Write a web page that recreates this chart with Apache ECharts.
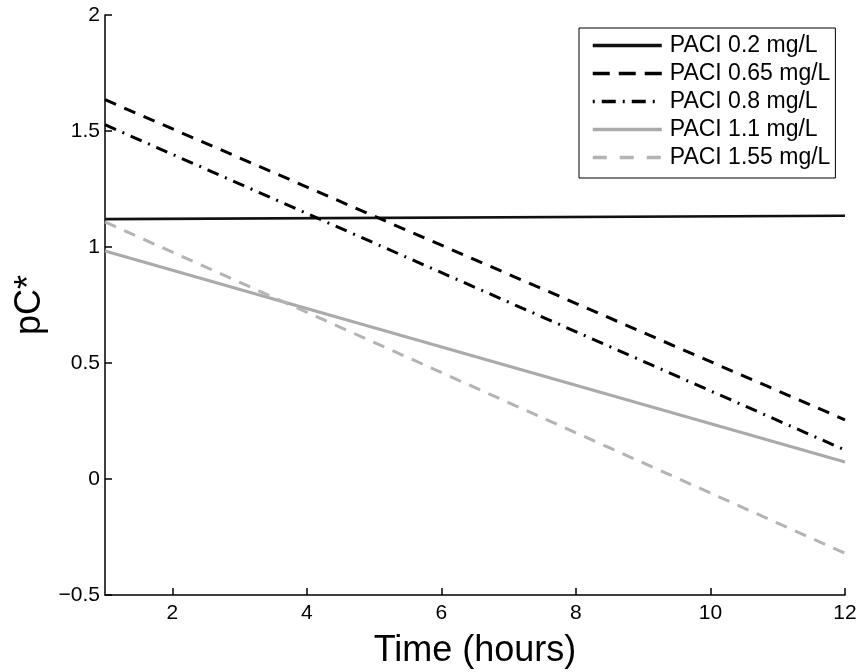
<!DOCTYPE html>
<html>
<head>
<meta charset="utf-8">
<script src="https://cdn.jsdelivr.net/npm/echarts@6/dist/echarts.min.js"></script>
<style>html,body{margin:0;padding:0;background:#fff;}#c{width:863px;height:672px;}</style>
</head>
<body>
<div id="c"></div>
<script>
// Data
var seriesNames = ['PACI 0.2 mg/L', 'PACI 0.65 mg/L', 'PACI 0.8 mg/L', 'PACI 1.1 mg/L', 'PACI 1.55 mg/L'];
var timeHours = [1, 12];
var paci020 = [1.12, 1.135];
var paci065 = [1.635, 0.255];
var paci080 = [1.527, 0.125];
var paci110 = [0.983, 0.073];
var paci155 = [1.108, -0.32];
var xTickValues = [2, 4, 6, 8, 10, 12];

function pairs(vals) { return timeHours.map(function (t, i) { return [t, vals[i]]; }); }

var FONT = 'Liberation Sans, Arial, sans-serif';
var styles = [
  { color: '#111111', width: 2.6, type: 'solid', legendType: 'solid', legendWidth: 3.5 },
  { color: '#000000', width: 3, type: [12, 9], legendType: [17, 9], legendWidth: 3.5 },
  { color: '#000000', width: 3, type: [12, 7, 2, 7], legendType: [2, 7, 14, 7], legendWidth: 3.5 },
  { color: '#aaaaaa', width: 3, type: 'solid', legendType: 'solid', legendWidth: 3.5 },
  { color: '#b4b4b4', width: 3, type: [12, 9], legendType: [14, 13], legendWidth: 3.5 }
];
var allData = [paci020, paci065, paci080, paci110, paci155];

var chart = echarts.init(document.getElementById('c'), null, { renderer: 'canvas' });
chart.setOption({
  backgroundColor: '#ffffff',
  animation: false,
  grid: { left: 105, right: 18, top: 15, bottom: 77, containLabel: false, outerBoundsMode: 'none' },
  legend: {
    orient: 'vertical',
    left: 579,
    top: 28,
    padding: [6, 5, 9, 12],
    itemWidth: 69,
    itemHeight: 14,
    itemGap: 5,
    backgroundColor: '#ffffff',
    borderColor: '#000000',
    borderWidth: 1,
    borderRadius: 0,
    itemStyle: { opacity: 0, color: 'transparent', borderWidth: 0 },
    textStyle: { fontFamily: FONT, fontSize: 23, lineHeight: 23, color: '#000', padding: [0, 0, 0, 3] },
    data: seriesNames.map(function (n, i) {
      return { name: n, lineStyle: { color: styles[i].color, width: styles[i].legendWidth, type: styles[i].legendType } };
    })
  },
  xAxis: {
    type: 'value',
    min: 1,
    max: 12,
    name: 'Time (hours)',
    nameLocation: 'middle',
    nameGap: 38,
    nameTextStyle: { fontFamily: FONT, fontSize: 36, color: '#000' },
    splitLine: { show: false },
    axisLine: { show: true, onZero: false, lineStyle: { color: '#000', width: 1.5 } },
    axisTick: { show: true, inside: true, length: 7, lineStyle: { color: '#000', width: 1.5 }, customValues: xTickValues },
    axisLabel: { fontFamily: FONT, fontSize: 21, color: '#000', margin: 8, customValues: xTickValues }
  },
  yAxis: {
    type: 'value',
    min: -0.5,
    max: 2,
    interval: 0.5,
    name: 'pC*',
    nameLocation: 'middle',
    nameGap: 55,
    nameRotate: 90,
    nameTextStyle: { fontFamily: FONT, fontSize: 36, color: '#000' },
    splitLine: { show: false },
    axisLine: { show: true, onZero: false, lineStyle: { color: '#000', width: 1.5 } },
    axisTick: { show: true, inside: true, length: 7, lineStyle: { color: '#000', width: 1.5 } },
    axisLabel: {
      fontFamily: FONT, fontSize: 21, color: '#000', margin: 5,
      formatter: function (v) { return String(v).replace('-', '\u2212'); }
    }
  },
  series: seriesNames.map(function (name, i) {
    return {
      name: name,
      type: 'line',
      data: pairs(allData[i]),
      symbol: 'none',
      showSymbol: false,
      silent: true,
      itemStyle: { color: styles[i].color },
      lineStyle: { color: styles[i].color, width: styles[i].width, type: styles[i].type }
    };
  })
});
</script>
</body>
</html>
